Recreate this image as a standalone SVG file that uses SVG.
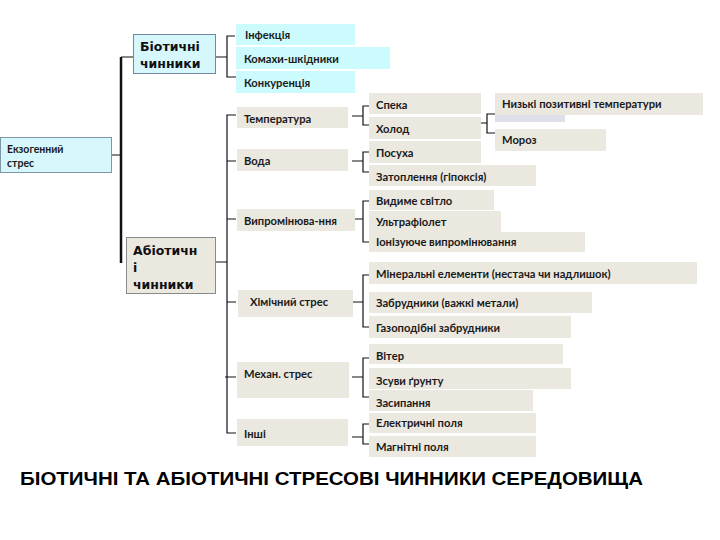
<svg xmlns="http://www.w3.org/2000/svg" width="720" height="540" viewBox="0 0 720 540">
<style>
.t{font-family:Lato,"Liberation Sans",sans-serif;font-weight:bold;font-size:11.2px;fill:#1a1a1a}
.h{font-family:"DejaVu Sans",sans-serif;font-weight:bold;font-size:12.5px;fill:#111}
.c{fill:#ccfbfd}
.b{fill:#ebe8e0}
.ln{stroke:#111;stroke-width:1.2;fill:none}
</style>
<rect width="720" height="540" fill="#fff"/>
<g id="connectors">
<path d="M112,155H121M121,57H133" class="ln"/>
<path d="M121,57V263" stroke="#111" stroke-width="2.5" fill="none"/>
<path d="M216,57H227M235,36H227V77H236" class="ln"/>
<path d="M216,262H227M236,115H227V433H236M227,161H236M227,219H236M227,302H236M225,377H236" class="ln"/>
<path d="M352,116H363M370,106H363V125H370" class="ln"/>
<path d="M352,161H363M370,152H363V172H370" class="ln"/>
<path d="M352,219H363M370,201H363V242H370" class="ln"/>
<path d="M352,302H363M370,275H363V327H370" class="ln"/>
<path d="M352,377H363M370,358H363V397H370" class="ln"/>
<path d="M352,437H363M370,424H363V444H370" class="ln"/>
<path d="M481,123H487M495,114H487V133H495" class="ln"/>
</g>
<g id="exo"><rect x="0.5" y="137.5" width="111" height="35" fill="#d6f7fb" stroke="#7f96a8"/><text class="t" x="7" y="153" style="font-size:10.5px">Екзогенний</text><text class="t" x="7" y="167" style="font-size:10.5px">стрес</text></g>
<g id="biotic"><rect x="133.5" y="34.5" width="82" height="39" fill="#d6f7fb" stroke="#6f88a3"/><text class="h" x="140" y="51">Біотичні</text><text class="h" x="140" y="68">чинники</text></g>
<g id="abiotic"><rect x="126.5" y="237.5" width="89" height="56" fill="#ebe8e0" stroke="#8a8a8a"/><text class="h" x="133" y="255">Абіотичн</text><text class="h" x="133" y="272">і</text><text class="h" x="133" y="289">чинники</text></g>
<g id="infection"><rect class="c" x="236" y="24" width="119" height="21"/><text class="t" x="245" y="39">Інфекція</text></g>
<g id="insects"><rect class="c" x="236" y="47" width="154" height="22"/><text class="t" x="244" y="63">Комахи-шкідники</text></g>
<g id="competition"><rect class="c" x="236" y="71" width="119" height="22"/><text class="t" x="244" y="87">Конкуренція</text></g>
<g id="temp"><rect class="b" x="237" y="107" width="111" height="21"/><text class="t" x="244" y="123">Температура</text></g>
<g id="water"><rect class="b" x="237" y="149" width="111" height="22"/><text class="t" x="244" y="165">Вода</text></g>
<g id="radiation"><rect class="b" x="237" y="209" width="118" height="22"/><text class="t" x="244" y="225">Випромінюва-ння</text></g>
<g id="chem"><rect class="b" x="238" y="290" width="115" height="27"/><text class="t" x="250" y="306">Хімічний стрес</text></g>
<g id="mech"><rect class="b" x="237" y="362" width="112" height="36"/><text class="t" x="244" y="378">Механ. стрес</text></g>
<g id="other"><rect class="b" x="237" y="419" width="111" height="27"/><text class="t" x="244" y="438">Інші</text></g>
<g id="heat"><rect class="b" x="369" y="93" width="112" height="21"/><text class="t" x="376" y="109">Спека</text></g>
<g id="cold"><rect class="b" x="369" y="117" width="112" height="22"/><text class="t" x="376" y="133">Холод</text></g>
<g id="drought"><rect class="b" x="369" y="141" width="112" height="22"/><text class="t" x="376" y="157">Посуха</text></g>
<g id="flood"><rect class="b" x="369" y="165" width="167" height="21"/><text class="t" x="376" y="181">Затоплення (гіпоксія)</text></g>
<g id="visible"><rect class="b" x="369" y="190" width="125" height="20"/><text class="t" x="376" y="205">Видиме світло</text></g>
<g id="uv"><rect class="b" x="369" y="211" width="132" height="21"/><text class="t" x="376" y="226">Ультрафіолет</text></g>
<g id="ionizing"><rect class="b" x="369" y="232" width="216" height="20"/><text class="t" x="376" y="246">Іонізуюче випромінювання</text></g>
<g id="mineral"><rect class="b" x="369" y="262" width="328" height="22"/><text class="t" x="376" y="278">Мінеральні елементи (нестача чи надлишок)</text></g>
<g id="metals"><rect class="b" x="369" y="292" width="223" height="21"/><text class="t" x="376" y="307">Забрудники (важкі метали)</text></g>
<g id="gas"><rect class="b" x="369" y="316" width="202" height="22"/><text class="t" x="376" y="332">Газоподібні забрудники</text></g>
<g id="wind"><rect class="b" x="369" y="344" width="194" height="20"/><text class="t" x="376" y="360">Вітер</text></g>
<g id="landslide"><rect class="b" x="369" y="368" width="202" height="21"/><text class="t" x="376" y="385">Зсуви ґрунту</text></g>
<g id="burial"><rect class="b" x="369" y="390" width="164" height="21"/><text class="t" x="376" y="407">Засипання</text></g>
<g id="electric"><rect class="b" x="369" y="413" width="167" height="20"/><text class="t" x="376" y="427">Електричні поля</text></g>
<g id="magnetic"><rect class="b" x="369" y="436" width="167" height="21"/><text class="t" x="376" y="451">Магнітні поля</text></g>
<g id="lowpos"><rect x="495" y="114" width="70" height="8" fill="#dde0e8"/><rect class="b" x="495" y="93" width="208" height="22"/><text class="t" x="502" y="108">Низькі позитивні температури</text></g>
<g id="frost"><rect class="b" x="495" y="129" width="111" height="22"/><text class="t" x="502" y="144">Мороз</text></g>
<text x="20" y="485" font-family="'Liberation Sans',sans-serif" font-weight="bold" font-size="17.5" fill="#000" textLength="623" lengthAdjust="spacingAndGlyphs">БІОТИЧНІ ТА АБІОТИЧНІ СТРЕСОВІ ЧИННИКИ СЕРЕДОВИЩА</text>
</svg>
